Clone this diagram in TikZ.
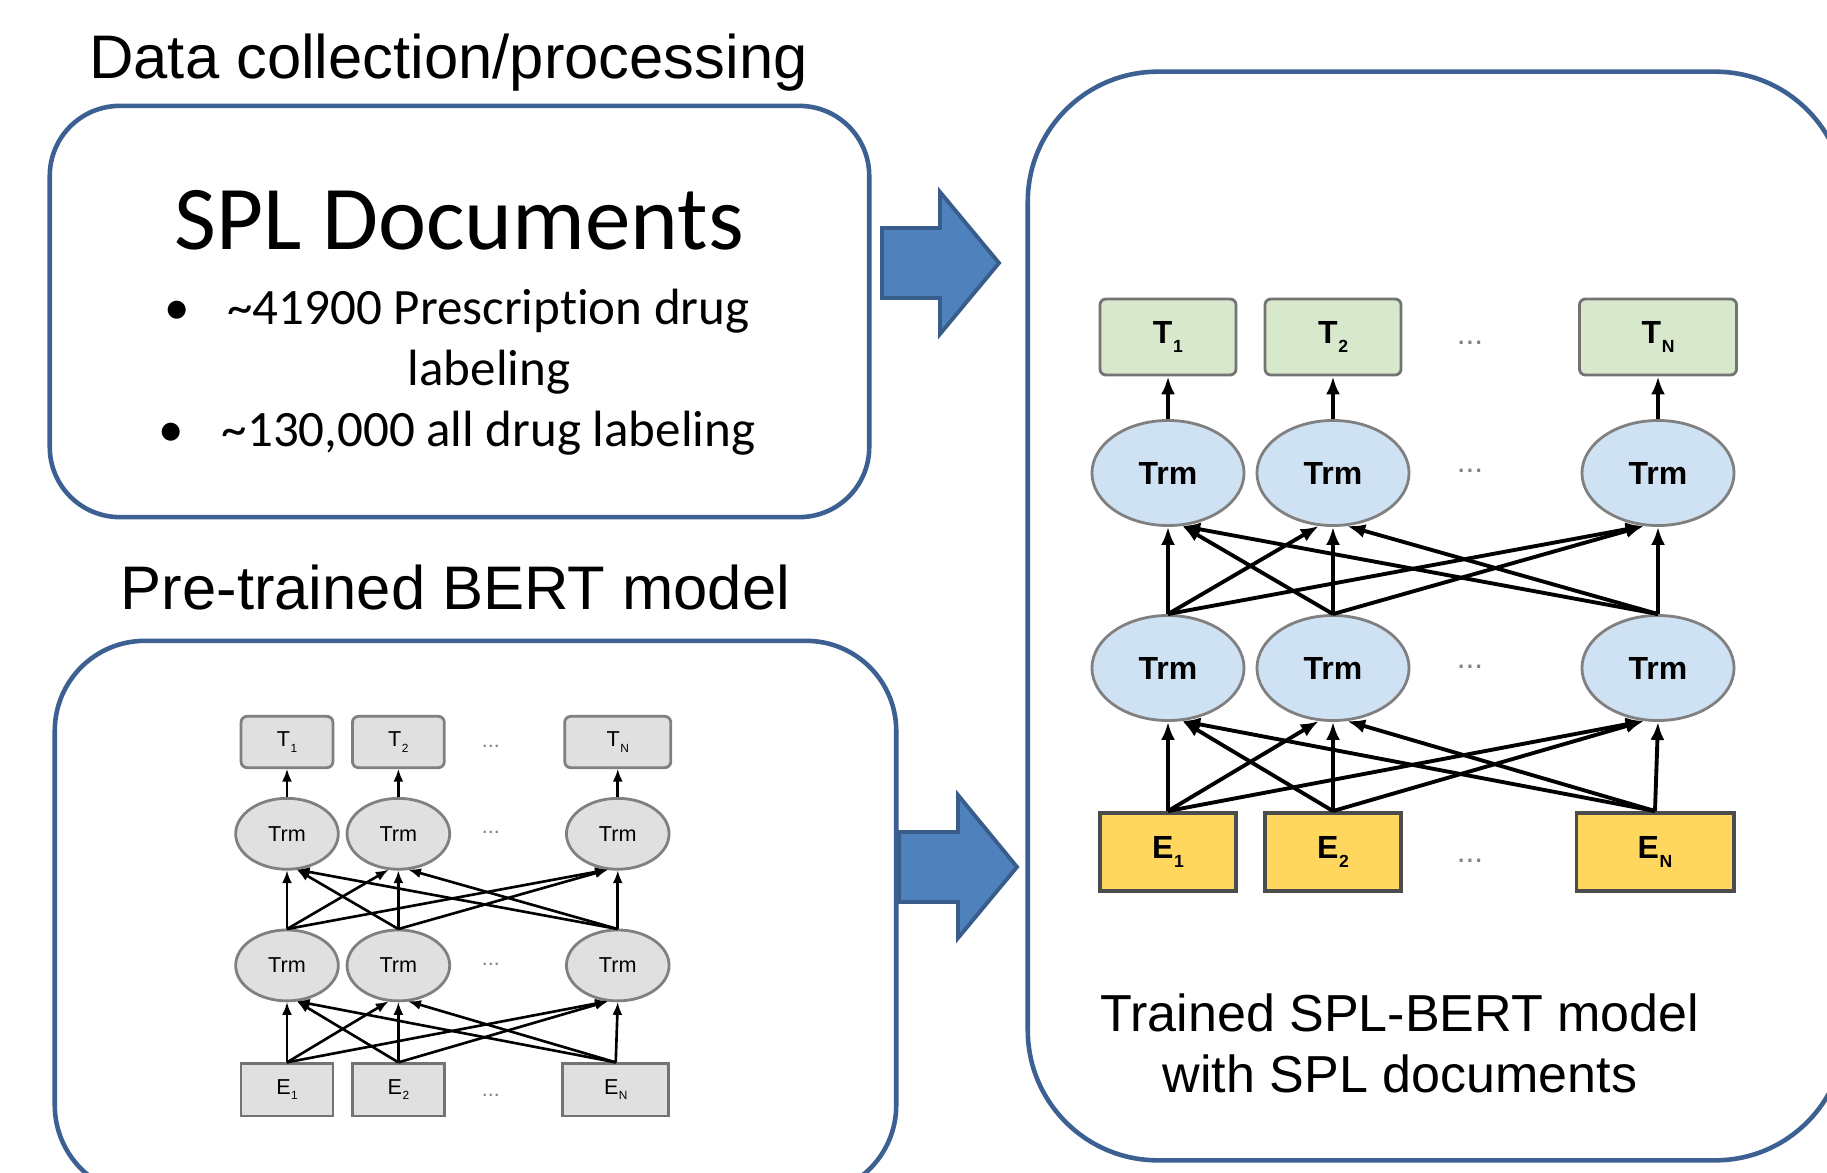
\documentclass[tikz,border=0pt]{standalone}
\usepackage{fontspec}
\setmainfont{Liberation Sans}
\newfontfamily\calibri[Ligatures=NoCommon]{Carlito}
\usetikzlibrary{arrows.meta, positioning, shapes.geometric}

\definecolor{panelline}{HTML}{3B6091}
\definecolor{blockfill}{HTML}{4F81BD}
\definecolor{blockline}{HTML}{385D8A}
\definecolor{tokgreen}{HTML}{D7E8CD}
\definecolor{trmblue}{HTML}{CFE2F3}
\definecolor{embyellow}{HTML}{FFD75E}
\definecolor{netgray}{HTML}{E0E0E0}

\newcommand{\tsub}[2]{#1\kern.2pt\raisebox{-.5ex}{\fontsize{5}{5}\selectfont #2}}

\begin{document}
\begin{tikzpicture}[x=0.01cm, y=-0.01cm,
    panel/.style={draw=panelline, line width=1.3pt},
    blockarr/.style={draw=blockline, line width=1.1pt, fill=blockfill, line join=miter},
    title/.style={font=\fontsize{17.5}{21}\selectfont, anchor=base},
    caption/.style={font=\fontsize{14.8}{17.8}\selectfont, anchor=base},
    bullettext/.style={font=\calibri\fontsize{14.5}{17.4}\selectfont, anchor=base},
    netfont/.style={font=\bfseries\fontsize{9.1}{10}\selectfont},
    tok/.style={draw=black!55, fill=tokgreen, rounded corners=0.6mm, line width=0.8pt,
                minimum width=1.36cm, minimum height=0.76cm, inner sep=0pt, netfont},
    trm/.style={ellipse, draw=black!50, fill=trmblue, line width=0.8pt,
                minimum width=1.52cm, minimum height=1.05cm, inner sep=0pt, netfont},
    emb/.style={draw=black!70, fill=embyellow, line width=1.1pt,
                minimum width=1.36cm, minimum height=0.78cm, inner sep=0pt, netfont},
    dots/.style={text=black!50, font=\fontsize{9}{10}\selectfont},
    conn/.style={-{Latex[length=1.8mm,width=1.4mm]}, line width=1.1pt},
    bert/.pic={
        \node[tok] (-t1) at (0,0)   {\tsub{T}{1}};
        \node[tok] (-t2) at (165,0) {\tsub{T}{2}};
        \node[tok, minimum width=1.57cm] (-tn) at (490,0) {\tsub{T}{N}};
        \node[trm] (-u1) at (0,136)   {Trm};
        \node[trm] (-u2) at (165,136) {Trm};
        \node[trm] (-un) at (490,136) {Trm};
        \node[trm] (-l1) at (0,331)   {Trm};
        \node[trm] (-l2) at (165,331) {Trm};
        \node[trm] (-ln) at (490,331) {Trm};
        \node[emb] (-e1) at (0,515)   {\tsub{E}{1}};
        \node[emb] (-e2) at (165,515) {\tsub{E}{2}};
        \node[emb, minimum width=1.57cm] (-en) at (487,515) {\tsub{E}{N}};
        \node[dots] (-d1) at (302,6)   {...};
        \node[dots] (-d2) at (302,134) {...};
        \node[dots] (-d3) at (302,330) {...};
        \node[dots] (-d4) at (302,524) {...};
        % all-to-all links between the layers
        \foreach \a/\b/\p in {1/1/south, 1/2/-105, 1/n/-105,
                              2/1/-75, 2/2/south, 2/n/-105,
                              n/1/-75, n/2/-75, n/n/south} {
            \draw[conn] (-e\a.north) -- (-l\b.\p);
            \draw[conn] (-l\a.north) -- (-u\b.\p);
        }
        \foreach \c in {1,2,n}
            \draw[conn] (-u\c.north) -- (-t\c.south);
    },
]
\path[use as bounding box, clip] (0,0) rectangle (1827,1173);

% panels
\node[panel, rounded corners=0.7cm, minimum width=8.19cm, minimum height=4.11cm] (spl) at (459.5,311.5) {};
\node[panel, rounded corners=0.9cm, minimum width=8.41cm, minimum height=5.54cm] (pre) at (475.5,918) {};
\node[panel, rounded corners=1.3cm, minimum width=8.17cm, minimum height=10.88cm] (trained) at (1436.5,616) {};

% titles
\node[title] (datattl) at (448.5,79) {Data collection/processing};
\node[title] (prettl) at (455.5,609) {Pre-trained BERT model};

% SPL documents box
\node[font=\calibri\fontsize{25.9}{31}\selectfont, anchor=base] (spltxt) at (459,250) {SPL Documents};
\node[bullettext] (item1) at (488.5,324) {\textasciitilde41900 Prescription drug};
\node[bullettext] (item1b) at (489,385) {labeling};
\node[bullettext] (item2) at (488.5,446) {\textasciitilde130,000 all drug labeling};
\node[bullettext] (dot1) at (177,324) {•};
\node[bullettext] (dot2) at (171,446) {•};

% block arrows
\draw[blockarr] (882,228) -- (940,228) -- (940,192) -- (999,263) -- (940,334) -- (940,298) -- (882,298) -- cycle;
\draw[blockarr] (899,832) -- (958,832) -- (958,795) -- (1017,867) -- (958,938) -- (958,902) -- (899,902) -- cycle;

% networks
\pic[scale=0.675, transform shape,
     netfont/.style={font=\fontsize{9.1}{10}\selectfont},
     tok/.append style={fill=netgray, draw=black!50},
     trm/.append style={fill=netgray, draw=black!50},
     emb/.append style={fill=netgray, draw=black!55, line width=0.8pt},
     conn/.style={-{Latex[length=1.3mm,width=1mm]}, line width=0.75pt}] (bertL) at (287,742) {bert};
\pic (bertR) at (1168,337) {bert};

\node[caption] (cap1) at (1400,1031) {Trained SPL-BERT model};
\node[caption] (cap2) at (1400,1092) {with SPL documents};
\end{tikzpicture}
\end{document}
